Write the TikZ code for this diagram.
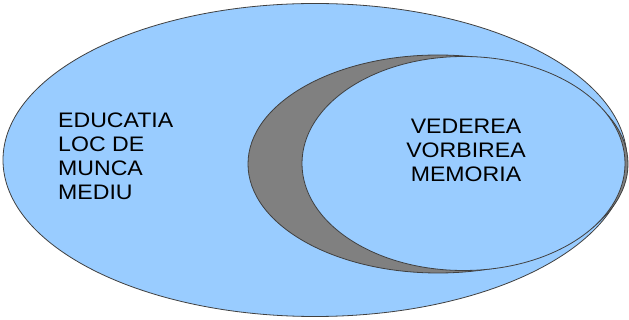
\documentclass[tikz,border=0pt]{standalone}
\usepackage{fontspec}
\setmainfont[FakeStretch=1.1]{Liberation Sans}
\usetikzlibrary{shapes.geometric}
\definecolor{skyblue}{HTML}{99CCFF}
\definecolor{shadegray}{HTML}{808080}

\begin{document}
\begin{tikzpicture}[
  x=1pt, y=-1pt,
  font=\fontsize{21}{24}\selectfont,
  blob/.style={ellipse, draw=black!75, line width=0.8pt, inner sep=0pt},
  lbl/.style={inner sep=0pt}
]
  \useasboundingbox (0,0) rectangle (629,320);

  \node[blob, fill=skyblue, minimum width=624pt, minimum height=313pt] (outer) at (315,160) {};
  \node[blob, fill=shadegray, minimum width=380pt, minimum height=218pt] (shade) at (438,164) {};
  \node[blob, fill=skyblue, minimum width=323pt, minimum height=214pt] (inner) at (463.5,163.5) {};

  % labels
  \node[lbl, align=left, anchor=west] (env) at (58,156) {EDUCATIA\\LOC DE\\MUNCA\\MEDIU};
  \node[lbl, align=center] (func) at (466,150) {VEDEREA\\VORBIREA\\MEMORIA};
\end{tikzpicture}
\end{document}
